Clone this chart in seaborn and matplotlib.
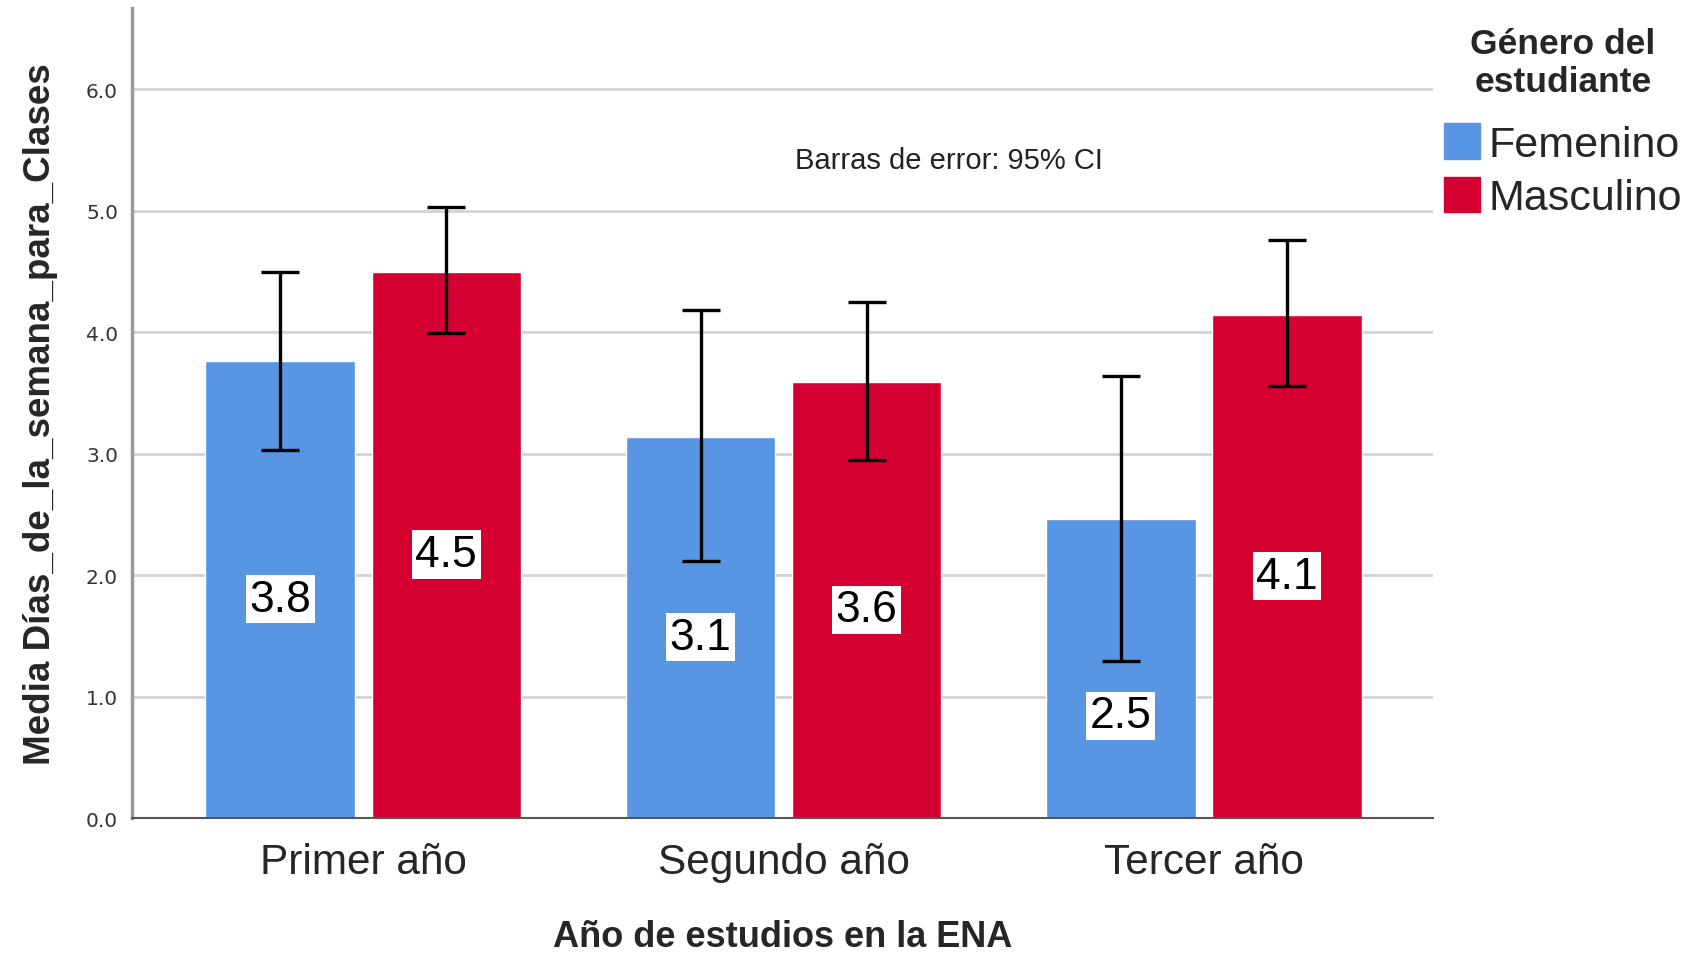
import pandas as pd # data manipulation
import numpy as np # numerical computations
import matplotlib.pyplot as plt # data visualization
import seaborn as sns # statistical data visualization
from matplotlib import font_manager

# Data
anios = ['Primer año', 'Segundo año', 'Tercer año']
generos = ['Femenino', 'Masculino']
media_fem = [3.76, 3.14, 2.46]
media_mas = [4.50, 3.59, 4.14]
ci_low_fem = [3.03, 2.12, 1.29]
ci_high_fem = [4.50, 4.18, 3.64]
ci_low_mas = [3.99, 2.95, 3.56]
ci_high_mas = [5.03, 4.25, 4.76]
y_ticks = [0.0, 1.0, 2.0, 3.0, 4.0, 5.0, 6.0]

colores = {'Femenino': '#5896E3', 'Masculino': '#D50032'}

# long format table for seaborn
df = pd.DataFrame({
    'anio': anios * 2,
    'genero': [generos[0]] * 3 + [generos[1]] * 3,
    'media': media_fem + media_mas,
})
ci_low = [ci_low_fem, ci_low_mas]
ci_high = [ci_high_fem, ci_high_mas]

sns.set_style('white')
names = {f.name for f in font_manager.fontManager.ttflist}
narrow = 'Liberation Sans Narrow' if 'Liberation Sans Narrow' in names else 'Liberation Sans'
plt.rcParams['font.family'] = ['Liberation Sans', 'DejaVu Sans']

fig = plt.figure(figsize=(16.86, 9.54), dpi=100)
ax = fig.add_axes([0.0783, 0.1415, 0.850 - 0.0783, 0.9906 - 0.1415])

sns.barplot(data=df, x='anio', y='media', hue='genero', order=anios, hue_order=generos,
            palette=colores, width=0.79, gap=0.10, errorbar=None, saturation=1,
            legend=False, ax=ax)

# error bars (95% CI) and value labels
for bar in ax.patches:
    xc = bar.get_x() + bar.get_width() / 2
    j = int(round(xc))             # category
    i = 0 if xc < j else 1         # hue level
    m = bar.get_height()
    lo, hi = ci_low[i][j], ci_high[i][j]
    ax.errorbar(xc, m, yerr=[[m - lo], [hi - m]], fmt='none', ecolor='black',
                elinewidth=2.4, capsize=13.5, capthick=2.4, zorder=4)
    ly = m / 2 - 0.08
    if abs(ly - lo) < 0.3:  # keep label clear of the lower cap
        ly = lo - 0.45
    ax.text(xc, ly, f'{m:.1f}', ha='center', va='center', fontsize=32, color='black',
            zorder=5, bbox=dict(facecolor='white', edgecolor='none', pad=2.5))

ax.set_ylim(0, 6.67)
ax.set_xlim(-0.55, 2.545)
ax.set_yticks(y_ticks)
ax.set_yticklabels([f'{t:.1f}' for t in y_ticks], fontsize=14.5, color='#333333',
                   family=['DejaVu Sans'])
ax.yaxis.grid(True, color='#d3d3d3', linewidth=2)
ax.set_axisbelow(True)
ax.tick_params(axis='x', length=0, pad=17, labelsize=30.5)
ax.tick_params(axis='y', length=0, pad=10)

for s in ['top', 'right']:
    ax.spines[s].set_visible(False)
ax.spines['left'].set_color('#9a9a9a')
ax.spines['left'].set_linewidth(2.5)
ax.spines['bottom'].set_color('#555555')
ax.spines['bottom'].set_linewidth(1.5)

ax.set_xlabel('Año de estudios en la ENA', fontsize=26, fontweight='bold', labelpad=27)
ax.set_ylabel('Media Días_de_la_semana_para_Clases', fontsize=26.5, fontweight='bold',
              labelpad=20, family=[narrow, 'DejaVu Sans'])

ax.text(0.628, 0.812, 'Barras de error: 95% CI', transform=ax.transAxes, ha='center',
        va='center', fontsize=21, color='#222222', family=[narrow, 'DejaVu Sans'])

# legend
handles = [plt.Rectangle((0, 0), 1, 1, color=colores[g]) for g in generos]
leg = fig.legend(handles, generos, loc='upper left', bbox_to_anchor=(0.846, 0.989),
                 frameon=False, fontsize=31, handlelength=0.85, handleheight=0.9,
                 handletextpad=0.2, labelspacing=0.28, borderaxespad=0,
                 title='Género del\nestudiante',
                 title_fontproperties={'weight': 'bold', 'size': 25.5})
leg.get_title().set_multialignment('center')
leg._legend_box.sep = 18

plt.savefig('out.png', dpi=100)
